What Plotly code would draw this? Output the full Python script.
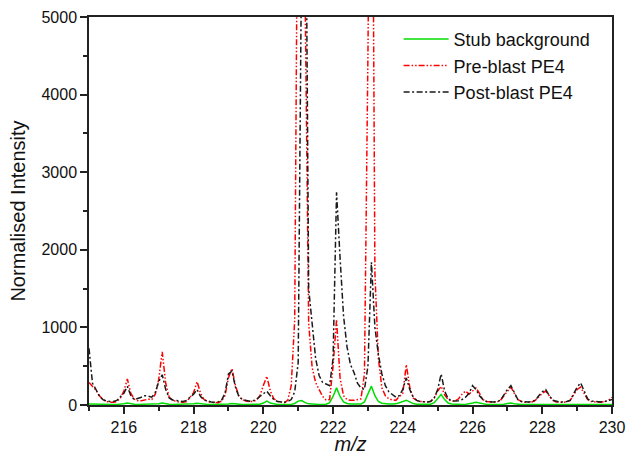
import plotly.graph_objects as go

# m/z sampling grid (0.1 steps)
mz = [
    215.0, 215.1, 215.2, 215.3, 215.4, 215.5, 215.6, 215.7, 215.8, 215.9,
    216.0, 216.1, 216.2, 216.3, 216.4, 216.5, 216.6, 216.7, 216.8, 216.9,
    217.0, 217.1, 217.2, 217.3, 217.4, 217.5, 217.6, 217.7, 217.8, 217.9,
    218.0, 218.1, 218.2, 218.3, 218.4, 218.5, 218.6, 218.7, 218.8, 218.9,
    219.0, 219.1, 219.2, 219.3, 219.4, 219.5, 219.6, 219.7, 219.8, 219.9,
    220.0, 220.1, 220.2, 220.3, 220.4, 220.5, 220.6, 220.7, 220.8, 220.9,
    221.0, 221.1, 221.2, 221.3, 221.4, 221.5, 221.6, 221.7, 221.8, 221.9,
    222.0, 222.1, 222.2, 222.3, 222.4, 222.5, 222.6, 222.7, 222.8, 222.9,
    223.0, 223.1, 223.2, 223.3, 223.4, 223.5, 223.6, 223.7, 223.8, 223.9,
    224.0, 224.1, 224.2, 224.3, 224.4, 224.5, 224.6, 224.7, 224.8, 224.9,
    225.0, 225.1, 225.2, 225.3, 225.4, 225.5, 225.6, 225.7, 225.8, 225.9,
    226.0, 226.1, 226.2, 226.3, 226.4, 226.5, 226.6, 226.7, 226.8, 226.9,
    227.0, 227.1, 227.2, 227.3, 227.4, 227.5, 227.6, 227.7, 227.8, 227.9,
    228.0, 228.1, 228.2, 228.3, 228.4, 228.5, 228.6, 228.7, 228.8, 228.9,
    229.0, 229.1, 229.2, 229.3, 229.4, 229.5, 229.6, 229.7, 229.8, 229.9,
    230.0,
]

stub_background = [
    12, 10, 8, 8, 8, 8, 8, 8, 8, 10,
    15, 25, 15, 10, 8, 8, 8, 8, 8, 10,
    15, 25, 15, 10, 8, 8, 8, 8, 8, 10,
    15, 22, 15, 10, 8, 8, 8, 8, 8, 10,
    12, 18, 12, 8, 6, 6, 6, 6, 6, 10,
    25, 50, 25, 12, 8, 6, 6, 6, 8, 20,
    50, 58, 30, 15, 10, 8, 8, 8, 10, 30,
    110, 221, 110, 40, 20, 12, 10, 10, 12, 40,
    140, 243, 120, 45, 22, 15, 12, 12, 15, 30,
    50, 62, 40, 18, 10, 8, 8, 8, 10, 30,
    90, 135, 70, 25, 12, 8, 8, 8, 8, 12,
    25, 36, 25, 12, 8, 6, 6, 6, 6, 10,
    18, 25, 15, 8, 6, 6, 6, 6, 6, 8,
    10, 12, 10, 6, 5, 5, 5, 5, 5, 6,
    8, 10, 8, 5, 5, 5, 5, 5, 5, 5,
    5,
]

pre_blast = [
    290, 240, 190, 120, 70, 45, 35, 35, 45, 90,
    180, 335, 150, 75, 55, 55, 70, 75, 70, 140,
    330, 685, 280, 100, 60, 45, 35, 35, 45, 100,
    160, 300, 150, 70, 45, 35, 30, 30, 50, 120,
    350, 470, 250, 110, 70, 50, 45, 45, 60, 120,
    250, 370, 180, 80, 50, 35, 30, 60, 250, 1100,
    8000, 20000, 5200, 1060, 480, 290, 190, 110, 65, 70,
    500, 1100, 350, 120, 70, 60, 60, 70, 80, 400,
    4500, 10000, 1700, 600, 220, 120, 80, 65, 60, 110,
    150, 520, 230, 90, 60, 45, 40, 40, 50, 90,
    180, 240, 130, 70, 50, 50, 80, 140, 180, 140,
    180, 220, 150, 70, 45, 35, 35, 40, 60, 120,
    180, 230, 150, 70, 45, 35, 35, 40, 60, 110,
    150, 180, 120, 60, 40, 35, 35, 40, 60, 130,
    200, 230, 150, 70, 45, 40, 35, 40, 45, 60,
    100,
]

post_blast = [
    730, 280, 200, 110, 70, 50, 45, 45, 60, 100,
    150, 240, 120, 70, 80, 100, 120, 115, 100, 160,
    300, 390, 200, 90, 65, 60, 50, 45, 60, 100,
    140, 200, 110, 65, 50, 40, 35, 40, 60, 150,
    400, 436, 230, 110, 70, 55, 50, 55, 70, 110,
    150, 178, 120, 70, 45, 35, 35, 45, 70, 170,
    550, 6000, 8000, 1500, 1060, 600, 380, 290, 270, 250,
    600, 2740, 1900, 1150, 750, 520, 420, 280, 220, 200,
    500, 1840, 1000, 650, 400, 250, 170, 130, 100, 120,
    200, 350, 200, 100, 60, 45, 40, 40, 45, 90,
    200, 400, 180, 80, 55, 50, 55, 70, 100, 150,
    250, 200, 120, 70, 45, 40, 40, 45, 60, 130,
    200, 250, 150, 70, 45, 40, 40, 45, 60, 120,
    170, 200, 120, 60, 45, 40, 40, 45, 60, 140,
    230, 286, 170, 80, 50, 45, 40, 40, 45, 55,
    70,
]

FONT = "Liberation Sans, Arial, sans-serif"

fig = go.Figure()
fig.add_trace(go.Scatter(
    x=mz, y=stub_background, mode="lines", name="Stub background",
    line=dict(color="#00dd00", width=1.5),
))
fig.add_trace(go.Scatter(
    x=mz, y=pre_blast, mode="lines", name="Pre-blast PE4",
    line=dict(color="#ff0000", width=1.5, dash="6px,2px,1.5px,2px,1.5px,2px"),
))
fig.add_trace(go.Scatter(
    x=mz, y=post_blast, mode="lines", name="Post-blast PE4",
    line=dict(color="#1a1a1a", width=1.5, dash="6px,2.5px,2px,2.5px"),
))

axis_common = dict(
    showgrid=False, zeroline=False, showline=True, linecolor="#222222",
    linewidth=1.5, mirror=True, ticks="outside", ticklen=7, tickwidth=1.5,
    tickcolor="#222222", tickfont=dict(size=16, color="#111111"),
    automargin=False,
)

fig.update_xaxes(
    range=[215, 230], tickmode="linear", tick0=216, dtick=2,
    minor=dict(ticks="outside", ticklen=4, dtick=1, tick0=215, tickcolor="#222222"),
    title=dict(text="<i>m/z</i>", font=dict(size=20, color="#111111"), standoff=6),
    **axis_common,
)
fig.update_yaxes(
    range=[0, 5000], tickmode="linear", tick0=0, dtick=1000,
    minor=dict(ticks="outside", ticklen=4, dtick=500, tickcolor="#222222"),
    title=dict(text="Normalised Intensity", font=dict(size=20, color="#111111"), standoff=10),
    **axis_common,
)

fig.update_layout(
    width=628, height=455,
    margin=dict(l=89, r=16, t=17, b=50),
    paper_bgcolor="white", plot_bgcolor="white",
    font=dict(family=FONT, color="#111111"),
    legend=dict(
        x=0.592, y=0.99, xanchor="left", yanchor="top",
        bgcolor="rgba(0,0,0,0)", font=dict(size=18), itemwidth=45,
        tracegroupgap=0,
    ),
)

# drop the default body margin so the figure sits flush in the window
fig.write_html(
    "out.html",
    config={"displayModeBar": False},
    post_script="document.body.style.margin='0';document.body.style.overflow='hidden';",
)
